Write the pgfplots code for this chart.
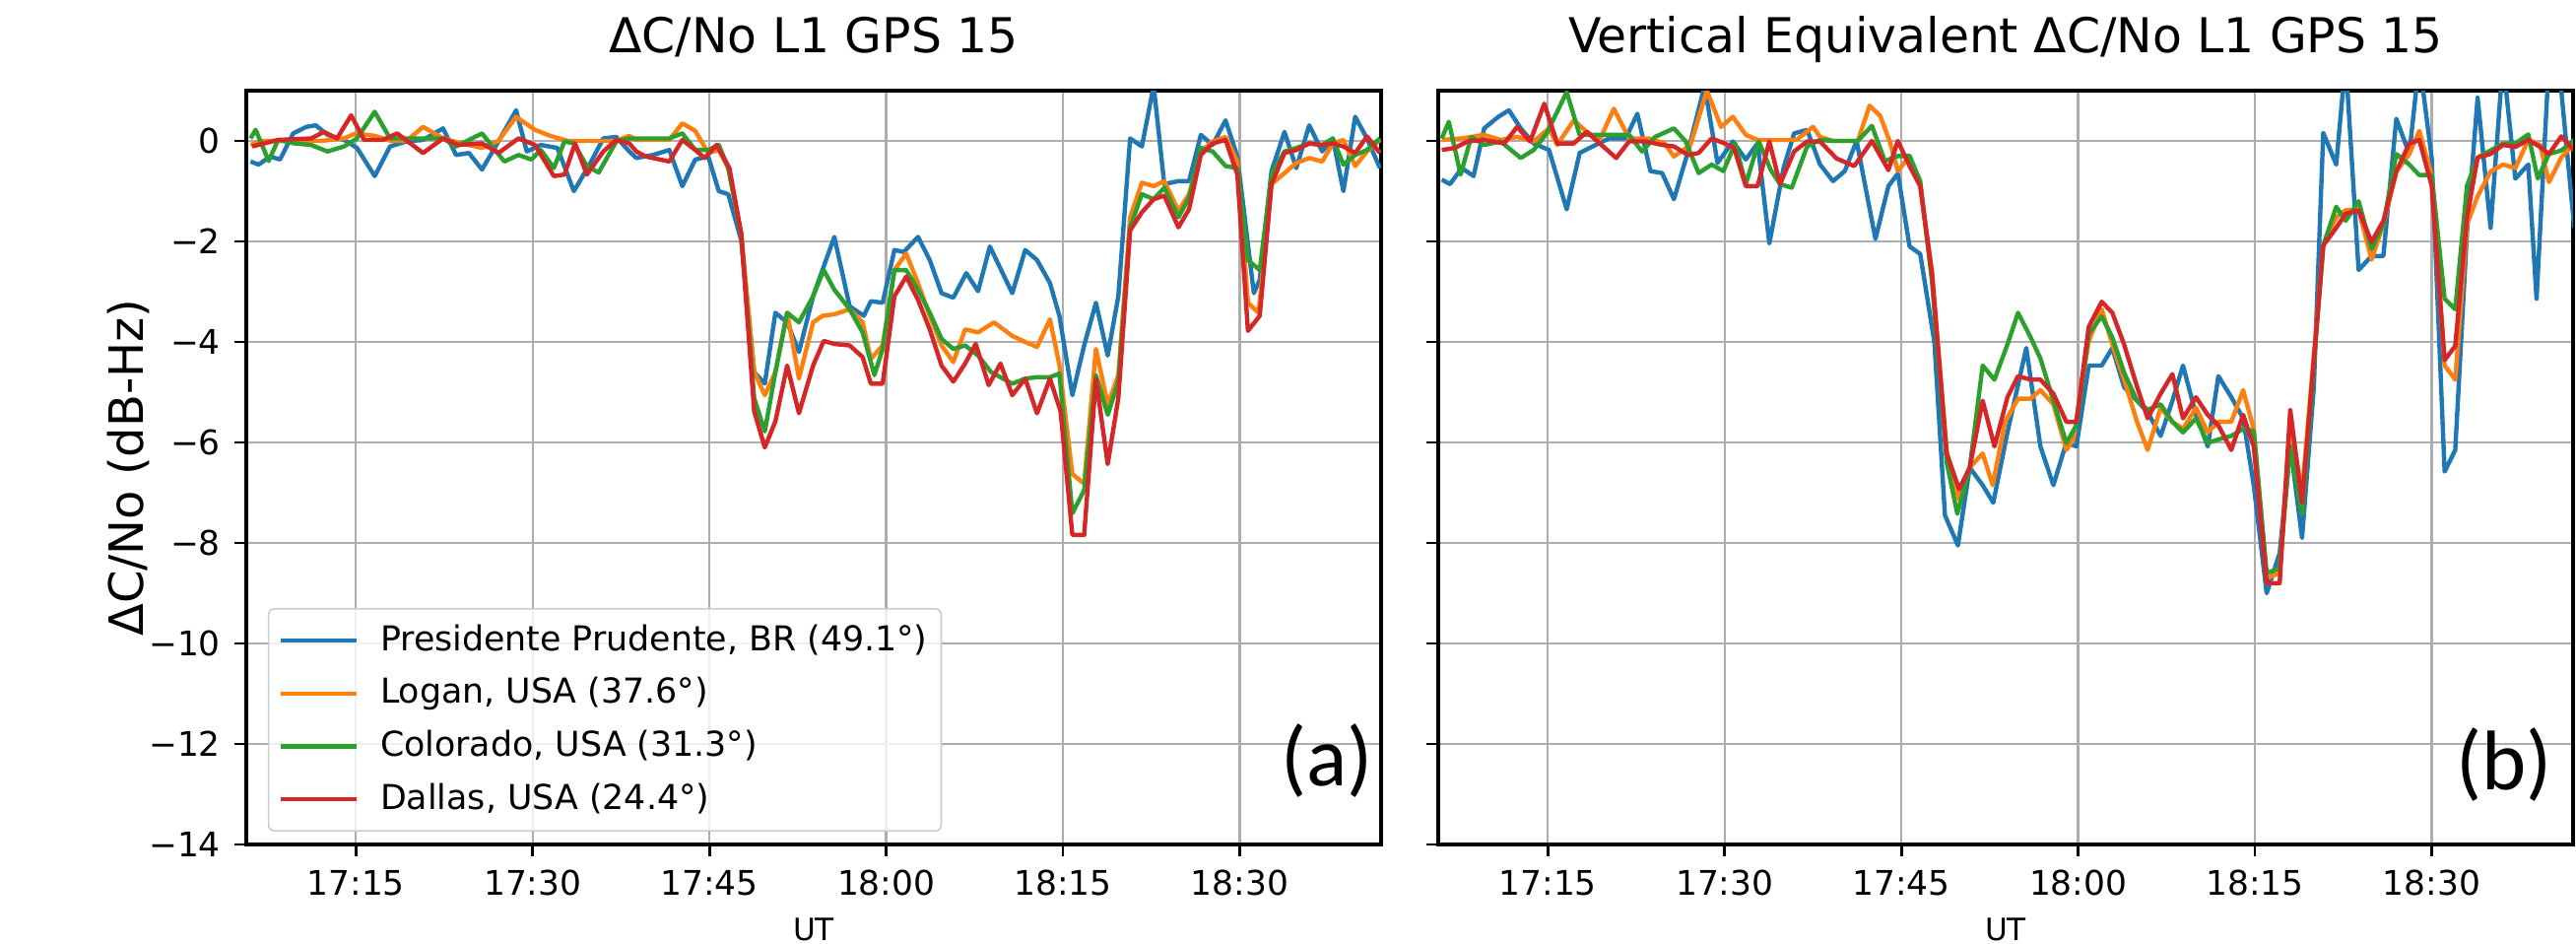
\documentclass[border=0pt]{standalone}
\usepackage{fontspec}
\setmainfont{DejaVu Sans}
\newfontfamily\labfont{Carlito}
\usepackage{pgfplots}
\pgfplotsset{compat=1.18}
\definecolor{cb}{HTML}{1F77B4}
\definecolor{co}{HTML}{FF7F0E}
\definecolor{cg}{HTML}{2CA02C}
\definecolor{cr}{HTML}{D62728}
\pgfplotsset{
  myax/.style={
    scale only axis, width=288pt, height=191.25pt,
    xmin=5.7, xmax=102, ymin=-14, ymax=1,
    xtick={15,30,45,60,75,90},
    xticklabels={17:15,17:30,17:45,18:00,18:15,18:30},
    ytick={-14,-12,-10,-8,-6,-4,-2,0},
    tick pos=left, tick align=outside,
    major tick length=3pt,
    tick style={black, line width=0.7pt},
    grid=major,
    major grid style={color=black!32, line width=0.6pt},
    axis line style={line width=0.9pt},
    ticklabel style={font=\fontsize{8.6}{10}\selectfont},
    title style={font=\fontsize{12.2}{14}\selectfont, at={(0.5,1)}, anchor=base, yshift=3.75pt},
    xlabel style={font=\fontsize{7.8}{9}\selectfont, at={(axis description cs:0.5,-0.128)}, anchor=base},
    every axis plot/.append style={line width=1.1pt, line join=round},
    clip=true,
  }
}
\begin{document}
\begin{tikzpicture}[x=1pt,y=1pt]
\path[use as bounding box] (0,0) rectangle (653.75,239.25);
\begin{axis}[myax, at={(62.5pt,25pt)}, anchor=south west,
  title={ΔC/No L1 GPS 15},
  xlabel={UT},
  ylabel={ΔC/No (dB-Hz)},
  ylabel style={font=\fontsize{12}{14}\selectfont, at={(axis description cs:-0.104,0.5)}, anchor=center},
  yticklabels={−14,−12,−10,−8,−6,−4,−2,0},
  legend cell align=left,
  legend image code/.code={\draw[#1] (0pt,0pt) -- (19.25pt,0pt);},
  legend style={font=\fontsize{8.7}{10.4}\selectfont, draw=black!20, rounded corners=1.5pt,
    fill=white, fill opacity=0.8, text opacity=1,
    at={(0.019,0.017)}, anchor=south west,
    inner xsep=2.5pt, inner ysep=3pt, row sep=3.3pt,
    nodes={inner sep=1pt},
    /tikz/every odd column/.append style={column sep=4.5pt}},
]
\addplot[cb] coordinates {(6.06,-0.41)(6.75,-0.47)(7.73,-0.31)(8.57,-0.37)(9.68,0.15)(10.8,0.28)(11.6,0.31)(12.6,0.12)(14.0,0.02)(15.1,-0.14)(16.6,-0.70)(17.9,-0.11)(19.3,-0.01)(20.7,0.02)(22.4,0.25)(23.5,-0.28)(24.6,-0.24)(25.7,-0.57)(27.1,-0.01)(28.6,0.61)(29.5,-0.21)(30.7,-0.08)(32.1,-0.14)(33.5,-1.0)(34.9,-0.44)(36.0,0.05)(37.1,0.08)(38.2,-0.21)(38.8,-0.34)(40.2,-0.28)(41.6,-0.18)(42.7,-0.9)(43.8,-0.37)(44.9,-0.31)(45.8,-1.0)(46.6,-1.06)(47.7,-1.98)(48.8,-4.6)(49.7,-4.83)(50.6,-3.42)(51.6,-3.61)(52.6,-4.2)(53.8,-3.09)(55.6,-1.91)(56.9,-3.29)(58.1,-3.48)(58.7,-3.19)(59.7,-3.22)(60.7,-2.17)(61.5,-2.21)(62.7,-1.91)(63.7,-2.37)(64.7,-3.03)(65.7,-3.12)(66.8,-2.63)(67.8,-2.99)(68.8,-2.1)(70.7,-3.03)(71.8,-2.17)(72.8,-2.37)(73.9,-2.83)(74.7,-3.48)(75.8,-5.06)(76.8,-4.07)(77.8,-3.22)(78.8,-4.27)(79.7,-3.09)(80.7,0.05)(81.7,-0.11)(82.7,1.1)(83.6,-0.86)(84.8,-0.8)(85.7,-0.8)(86.7,0.12)(87.7,-0.08)(88.8,0.41)(89.8,-0.31)(91.2,-3.03)(91.7,-2.76)(92.7,-0.6)(93.8,0.18)(94.8,-0.54)(95.9,0.31)(97.0,-0.21)(97.9,0.05)(98.8,-1.0)(99.8,0.48)(100.8,0.05)(101.9,-0.54)};
\addlegendentry{Presidente Prudente, BR (49.1°)}
\addplot[co] coordinates {(6.06,-0.08)(7.0,0.0)(8.5,0.0)(10,0.0)(12,0.0)(14,0.05)(15,0.15)(16.6,0.1)(18,0.0)(19.3,0.0)(20.7,0.28)(22.4,0.05)(24,-0.05)(25.7,-0.14)(27.1,0.0)(28.6,0.48)(30.2,0.22)(31.5,0.1)(33,0.0)(35,0.0)(37,0.0)(38.2,0.1)(38.8,0.02)(41.6,0.02)(42.7,0.35)(43.8,0.2)(44.9,-0.24)(45.8,-0.18)(46.6,-0.54)(47.7,-1.85)(48.8,-4.6)(49.7,-5.06)(50.6,-4.6)(51.6,-3.42)(52.6,-4.73)(53.8,-3.61)(54.6,-3.48)(55.6,-3.45)(56.9,-3.35)(58.0,-3.61)(58.7,-4.34)(59.7,-4.07)(60.7,-2.57)(61.7,-2.24)(62.7,-2.83)(63.7,-3.48)(64.7,-4.07)(65.7,-4.4)(66.7,-3.75)(67.8,-3.81)(69.15,-3.61)(70.7,-3.88)(71.8,-4.0)(72.8,-4.1)(73.9,-3.55)(74.7,-4.46)(75.8,-6.63)(76.8,-6.82)(77.8,-4.14)(78.8,-5.25)(79.7,-4.66)(80.7,-1.52)(81.7,-0.83)(82.7,-0.9)(83.6,-0.8)(84.8,-1.39)(85.7,-1.06)(86.7,-0.21)(87.7,-0.01)(88.8,0.08)(89.8,-0.41)(90.7,-3.22)(91.6,-3.42)(92.7,-0.86)(93.8,-0.64)(94.8,-0.44)(95.9,-0.34)(97.0,-0.41)(97.9,-0.05)(98.8,0.02)(99.8,-0.5)(100.8,-0.21)(101.9,0.02)};
\addlegendentry{Logan, USA (37.6°)}
\addplot[cg] coordinates {(6.06,0.05)(6.5,0.22)(7.6,-0.4)(8.4,0.02)(9.8,-0.05)(11.2,-0.08)(12.6,-0.21)(14.0,-0.11)(15.1,0.05)(16.6,0.58)(17.9,0.05)(19.6,0.05)(22.4,0.05)(23.5,-0.11)(25.7,0.15)(27.6,-0.41)(28.8,-0.28)(29.9,-0.37)(30.7,-0.18)(31.8,-0.54)(32.7,-0.01)(33.5,-0.05)(34.6,-0.5)(35.6,-0.63)(37.1,-0.01)(38.2,0.05)(41.6,0.05)(42.7,0.15)(43.8,-0.18)(44.9,-0.18)(45.8,-0.08)(46.6,-0.54)(47.7,-1.85)(48.8,-5.12)(49.7,-5.78)(50.6,-4.6)(51.6,-3.42)(52.6,-3.61)(53.8,-3.09)(54.7,-2.57)(55.6,-2.96)(56.9,-3.35)(58.0,-3.81)(59.0,-4.66)(59.7,-4.14)(60.7,-2.57)(61.7,-2.57)(62.7,-2.96)(63.7,-3.42)(64.7,-3.94)(65.7,-4.14)(66.7,-4.07)(67.8,-4.27)(68.9,-4.6)(70.7,-4.83)(71.8,-4.73)(72.8,-4.7)(73.9,-4.7)(74.7,-4.63)(75.8,-7.41)(76.8,-6.95)(77.8,-4.66)(78.8,-5.45)(79.7,-4.79)(80.7,-1.72)(81.7,-1.06)(82.7,-1.16)(83.6,-0.93)(84.8,-1.52)(85.7,-1.13)(86.7,-0.14)(87.7,-0.21)(88.8,-0.5)(89.8,-0.54)(90.7,-2.37)(91.7,-2.57)(92.7,-0.67)(93.8,-0.21)(94.8,-0.14)(95.9,-0.05)(97.0,-0.08)(97.9,0.05)(98.8,-0.47)(99.8,-0.28)(100.8,-0.18)(101.9,0.05)};
\addlegendentry{Colorado, USA (31.3°)}
\addplot[cr] coordinates {(6.2,-0.11)(8.4,0.02)(11.2,0.05)(12.3,0.18)(13.4,0.05)(14.6,0.51)(15.7,0.02)(17.3,0.02)(18.5,0.15)(20.7,-0.24)(22.4,0.05)(23.7,-0.08)(25.7,-0.05)(27.1,-0.24)(28.8,0.05)(30.2,-0.08)(31.8,-0.7)(32.7,-0.67)(33.6,-0.05)(34.6,-0.67)(36.0,-0.21)(37.1,0.02)(38.2,-0.05)(38.8,-0.21)(39.6,-0.31)(41.6,-0.41)(42.7,0.02)(43.8,-0.18)(44.6,-0.34)(45.6,-0.08)(46.7,-0.54)(47.7,-1.85)(48.8,-5.38)(49.7,-6.1)(50.6,-5.58)(51.6,-4.47)(52.6,-5.42)(53.8,-4.47)(54.7,-3.98)(55.6,-4.04)(56.9,-4.07)(58.0,-4.3)(58.7,-4.83)(59.7,-4.83)(60.7,-3.09)(61.7,-2.7)(62.7,-3.16)(63.7,-3.75)(64.7,-4.47)(65.7,-4.79)(66.7,-4.43)(67.6,-4.04)(68.7,-4.86)(69.7,-4.43)(70.7,-5.06)(71.8,-4.73)(72.8,-5.42)(73.9,-4.73)(74.8,-5.38)(75.8,-7.84)(76.8,-7.84)(77.8,-4.73)(78.8,-6.43)(79.7,-5.12)(80.7,-1.78)(81.7,-1.42)(82.7,-1.16)(83.6,-1.09)(84.8,-1.72)(85.7,-1.36)(86.7,-0.28)(87.7,-0.05)(88.8,0.02)(89.8,-0.67)(90.7,-3.78)(91.7,-3.48)(92.7,-0.86)(93.8,-0.24)(94.8,-0.18)(95.9,-0.05)(97.0,-0.08)(97.9,-0.05)(98.8,-0.11)(99.8,-0.24)(100.8,0.09)(101.9,-0.24)};
\addlegendentry{Dallas, USA (24.4°)}
\node[font=\labfont\fontsize{21.5}{24}\selectfont, anchor=center] at (rel axis cs:0.952,0.111) {(a)};
\end{axis}
\begin{axis}[myax, at={(365pt,25pt)}, anchor=south west,
  title={Vertical Equivalent ΔC/No L1 GPS 15},
  xlabel={UT},
  yticklabels={},
]
\addplot[cb] coordinates {(6.0,-0.77)(6.7,-0.86)(7.7,-0.54)(8.7,-0.70)(9.6,0.25)(10.8,0.48)(11.7,0.61)(12.7,0.25)(13.8,-0.05)(15.1,-0.18)(16.6,-1.36)(17.7,-0.24)(18.8,-0.11)(20.2,0.05)(21.6,0.05)(22.6,0.54)(23.7,-0.6)(24.7,-0.64)(25.7,-1.16)(26.9,-0.21)(28.3,1.1)(29.4,-0.44)(30.7,-0.01)(31.8,-0.37)(32.8,-0.05)(33.8,-2.04)(35.0,-0.54)(35.9,0.15)(37.0,0.22)(38.1,-0.47)(39.2,-0.8)(40.2,-0.6)(41.2,0.0)(42.8,-1.95)(43.9,-0.9)(44.7,-0.65)(45.7,-2.1)(46.6,-2.25)(47.8,-4.0)(48.7,-7.45)(49.8,-8.05)(50.8,-6.5)(51.9,-6.85)(52.8,-7.2)(54.0,-5.8)(55.6,-4.12)(56.8,-6.08)(57.9,-6.85)(59.0,-6.0)(59.85,-6.08)(60.9,-4.47)(62.0,-4.47)(62.9,-4.12)(63.9,-4.9)(65.0,-5.17)(65.9,-5.4)(67.0,-5.87)(68.0,-5.17)(68.9,-4.47)(70.0,-5.45)(71.0,-6.08)(71.9,-4.68)(73.0,-5.1)(74.0,-5.52)(74.9,-6.85)(76.0,-9.0)(77.1,-8.2)(78.0,-6.05)(79.0,-7.9)(80.0,-4.9)(80.8,0.16)(81.9,-0.47)(82.7,1.6)(83.8,-2.57)(84.9,-2.29)(85.9,-2.29)(87.0,0.44)(88.1,-0.26)(88.95,1.6)(90.0,-0.33)(91.1,-6.58)(92.0,-6.15)(93.0,-1.8)(93.9,0.86)(95.0,-1.73)(96.05,1.6)(97.1,-0.75)(98.2,-0.47)(98.9,-3.14)(99.95,1.6)(101.0,1.0)(102.1,-1.73)};
\addplot[co] coordinates {(6.0,0.02)(7.7,0.05)(9.6,0.12)(11.0,0.02)(12.4,0.08)(13.8,-0.01)(15.1,0.25)(15.8,-0.08)(17.2,0.41)(18.3,0.18)(19.4,0.02)(20.6,0.64)(21.9,0.05)(23.6,0.05)(24.9,-0.05)(25.7,-0.31)(27.1,-0.08)(28.5,1.0)(29.7,0.28)(30.7,0.48)(31.8,0.12)(32.8,0.02)(34.0,0.02)(36.1,0.02)(37.5,0.28)(38.1,0.08)(39.2,0.0)(40.3,0.0)(41.3,0.0)(42.3,0.7)(43.2,0.5)(44.0,0.0)(44.7,-0.6)(45.7,-0.3)(46.6,-0.9)(47.6,-2.6)(48.85,-6.2)(49.9,-7.14)(50.8,-6.5)(51.9,-6.22)(52.75,-6.85)(53.8,-5.59)(54.9,-5.13)(55.95,-5.13)(56.8,-4.96)(57.9,-5.24)(59.0,-6.15)(59.6,-5.94)(60.9,-3.98)(62.0,-3.35)(62.9,-4.05)(63.9,-4.75)(65.0,-5.59)(65.9,-6.15)(67.0,-5.31)(68.0,-5.59)(68.9,-5.73)(70.0,-5.31)(71.0,-5.8)(71.9,-5.59)(73.0,-5.59)(74.0,-4.96)(74.9,-5.73)(76.0,-8.7)(77.1,-8.6)(78.0,-5.6)(79.0,-7.0)(80.8,-2.08)(81.9,-1.52)(82.7,-1.38)(83.8,-1.38)(84.9,-2.36)(85.9,-1.66)(87.0,-0.61)(88.1,-0.26)(88.95,0.2)(90.0,-0.68)(91.1,-4.47)(92.0,-4.75)(93.0,-1.66)(93.9,-1.1)(95.0,-0.61)(96.05,-0.47)(97.1,-0.54)(98.2,0.02)(99.2,-0.08)(99.95,-0.82)(101.0,-0.33)(102.1,-0.05)};
\addplot[cg] coordinates {(6.0,0.05)(6.6,0.38)(7.6,-0.67)(8.5,0.08)(9.6,-0.08)(11.0,-0.01)(12.7,-0.34)(13.8,-0.18)(14.9,0.15)(16.6,0.97)(17.7,0.12)(18.8,0.12)(20.2,0.12)(21.9,0.12)(23.0,-0.21)(24.1,0.08)(25.7,0.25)(26.7,-0.01)(27.8,-0.64)(28.9,-0.47)(29.9,-0.6)(30.9,-0.05)(31.8,-0.86)(32.9,-0.01)(33.9,-0.57)(34.7,-0.86)(35.7,-0.93)(37.0,-0.11)(38.1,0.02)(39.2,0.0)(40.3,0.0)(41.3,0.0)(42.5,0.3)(43.6,-0.4)(44.7,-0.3)(45.7,-0.3)(46.6,-0.8)(47.6,-2.8)(48.85,-6.4)(49.75,-7.42)(50.8,-6.5)(51.9,-4.47)(52.9,-4.75)(54.0,-4.05)(54.9,-3.42)(55.95,-3.9)(56.8,-4.33)(57.9,-5.17)(59.0,-6.01)(59.85,-5.66)(60.9,-3.84)(62.0,-3.49)(62.9,-3.91)(63.9,-4.61)(65.0,-5.17)(65.9,-5.35)(67.0,-5.24)(68.0,-5.59)(68.9,-5.8)(70.0,-5.52)(71.0,-6.01)(71.9,-5.94)(73.0,-5.87)(74.0,-5.73)(74.9,-5.77)(76.0,-8.6)(77.1,-8.5)(78.0,-6.08)(79.0,-7.42)(80.8,-2.08)(81.9,-1.31)(82.7,-1.59)(83.8,-1.2)(84.9,-2.15)(85.9,-1.66)(87.0,-0.26)(88.1,-0.47)(88.95,-0.68)(90.0,-0.68)(91.1,-3.14)(92.0,-3.35)(93.0,-0.89)(93.9,-0.33)(95.0,-0.19)(96.05,-0.05)(97.1,-0.05)(98.2,0.13)(99.0,-0.75)(99.95,-0.26)(101.0,-0.19)(102.1,0.02)};
\addplot[cr] coordinates {(6.0,-0.18)(7.1,-0.14)(8.2,-0.01)(9.6,0.02)(11.3,-0.05)(12.4,0.28)(13.5,-0.01)(14.7,0.74)(15.8,-0.05)(17.2,-0.05)(18.3,0.18)(19.7,-0.11)(20.8,-0.34)(21.9,-0.01)(23.3,-0.01)(24.7,-0.08)(25.7,-0.11)(26.9,-0.28)(27.8,-0.24)(28.9,0.05)(30.0,-0.05)(30.8,-0.14)(31.8,-0.9)(32.8,-0.9)(33.8,-0.01)(34.7,-0.86)(35.9,-0.21)(37.0,-0.01)(38.1,-0.01)(39.5,-0.35)(41.0,-0.5)(42.5,0.0)(43.9,-0.58)(44.7,0.0)(45.7,-0.5)(46.6,-0.9)(47.6,-2.65)(48.85,-6.22)(49.9,-6.93)(50.8,-6.5)(51.9,-5.17)(52.9,-6.08)(54.0,-5.1)(54.9,-4.68)(55.95,-4.75)(56.8,-4.75)(57.9,-5.03)(59.0,-5.59)(59.85,-5.59)(60.9,-3.7)(62.0,-3.2)(62.9,-3.42)(63.9,-4.05)(65.0,-4.89)(65.9,-5.52)(67.0,-5.03)(68.0,-4.64)(68.9,-5.52)(70.0,-5.1)(71.0,-5.45)(71.9,-5.66)(73.0,-6.15)(74.0,-5.45)(74.9,-6.08)(76.0,-8.8)(77.1,-8.8)(78.0,-5.35)(79.0,-7.2)(80.8,-2.08)(81.9,-1.73)(82.7,-1.45)(83.8,-1.38)(84.9,-2.01)(85.9,-1.59)(87.0,-0.61)(88.1,-0.05)(88.95,0.02)(90.0,-0.89)(91.1,-4.36)(92.0,-4.08)(93.0,-1.52)(93.9,-0.33)(95.0,-0.26)(96.05,-0.08)(97.1,-0.12)(98.2,0.02)(99.2,-0.12)(99.95,-0.26)(101.0,0.09)(102.1,-0.19)};
\node[font=\labfont\fontsize{21.5}{24}\selectfont, anchor=center] at (rel axis cs:0.939,0.106) {(b)};
\end{axis}
\end{tikzpicture}
\end{document}
